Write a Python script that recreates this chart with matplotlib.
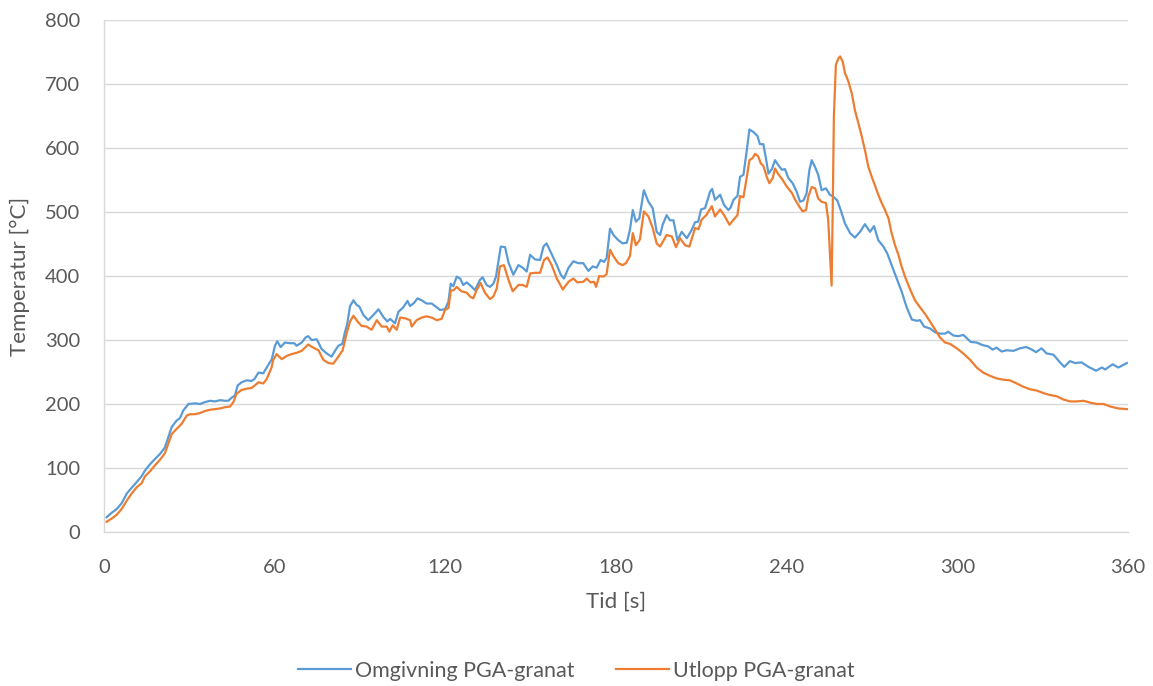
import matplotlib
matplotlib.use("Agg")
import matplotlib.pyplot as plt

plt.rcParams['font.family'] = ['Lato', 'DejaVu Sans']

# Omgivning PGA-granat: time [s] and temperature [°C]
t_omgivning = [0.9, 2.7, 4.5, 6.2, 8.0, 9.7, 11.5, 13.2, 14.4, 16.2, 17.9, 19.7, 21.4, 22.6, 23.8, 25.5,
               26.7, 27.9, 29.7, 32.0, 33.8, 35.5, 37.3, 39.0, 40.8, 42.5, 43.7, 44.9, 46.0, 47.0, 48.4,
               50.2, 51.9, 52.9, 54.3, 56.0, 57.2, 59.0, 60.1, 60.9, 62.1, 63.6, 65.4, 66.9, 67.7, 69.5,
               70.9, 71.8, 73.0, 74.8, 76.5, 78.3, 80.0, 81.2, 82.4, 83.8, 84.7, 85.5, 86.5, 87.7, 88.8,
               89.8, 91.2, 92.9, 94.7, 96.5, 98.2, 99.6, 100.6, 102.3, 103.5, 105.2, 106.7, 107.6, 109.0,
               110.2, 111.7, 113.4, 115.2, 117.0, 118.1, 119.9, 121.1, 121.9, 122.8, 124.0, 125.2, 126.3,
               127.5, 129.3, 130.4, 132.2, 133.1, 134.5, 135.7, 136.9, 137.8, 139.5, 141.0, 142.2, 143.9,
               145.7, 147.2, 148.6, 149.8, 151.5, 153.3, 154.5, 155.6, 157.4, 159.2, 160.6, 161.7, 163.2,
               165.0, 166.8, 168.5, 170.3, 171.8, 173.2, 174.6, 175.8, 176.7, 177.9, 179.1, 180.8, 182.3,
               183.8, 184.9, 185.9, 187.0, 188.2, 189.8, 191.4, 192.9, 194.3, 195.5, 196.4, 197.8, 199.0,
               200.2, 201.6, 203.1, 204.9, 206.6, 207.8, 208.9, 209.9, 211.3, 213.1, 213.8, 214.8, 216.6,
               218.0, 219.5, 220.3, 221.3, 222.7, 223.6, 224.8, 226.0, 226.9, 228.3, 229.7, 230.6, 231.8,
               232.7, 233.6, 234.8, 235.9, 237.1, 238.3, 239.4, 240.6, 242.1, 243.5, 244.7, 245.9, 247.0,
               248.0, 248.8, 250.0, 251.1, 252.3, 253.8, 255.2, 256.4, 257.8, 259.0, 260.5, 262.3, 264.0,
               265.8, 267.5, 269.3, 270.7, 272.2, 274.0, 275.4, 276.9, 278.7, 280.4, 282.2, 284.0, 285.7,
               286.9, 288.3, 290.4, 292.2, 293.9, 295.7, 296.8, 298.6, 300.4, 302.1, 303.3, 304.7, 306.8,
               308.9, 310.9, 312.4, 313.8, 315.6, 317.3, 319.7, 322.0, 324.2, 325.8, 327.7, 329.6, 331.4,
               333.8, 335.9, 337.6, 339.6, 341.4, 343.7, 346.1, 348.8, 350.8, 352.0, 354.6, 356.6, 359.6]
omgivning = [23, 30, 36, 45, 60, 69, 78, 87, 96, 106, 114, 122, 132, 148, 164, 174,
             178, 190, 200, 201, 200, 203, 205, 204, 206, 205, 205, 210, 213, 229, 234,
             237, 236, 239, 249, 248, 257, 270, 291, 298, 289, 296, 295, 295, 291, 296,
             304, 306, 300, 301, 286, 279, 274, 283, 291, 294, 312, 325, 353, 362, 355,
             352, 339, 331, 339, 348, 336, 329, 333, 326, 344, 351, 361, 353, 358,
             365, 362, 357, 357, 351, 347, 348, 360, 388, 384, 399, 396, 386,
             390, 383, 378, 394, 398, 386, 383, 388, 399, 446, 445, 421, 402,
             417, 413, 407, 433, 426, 425, 446, 451, 434, 417, 402, 396, 412,
             423, 420, 420, 408, 415, 413, 425, 422, 428, 474, 464, 456, 451,
             452, 472, 503, 485, 490, 534, 516, 506, 469, 464, 480, 495, 487,
             487, 456, 469, 459, 472, 484, 485, 504, 506, 532, 536, 519, 527,
             511, 503, 507, 519, 525, 555, 558, 597, 629, 625, 619, 606, 606,
             584, 560, 567, 581, 573, 566, 567, 553, 545, 532, 516, 518, 529,
             566, 581, 570, 558, 534, 537, 527, 524, 518, 503, 482, 467, 460,
             469, 481, 469, 478, 456, 446, 435, 417, 396, 376, 351, 332, 330,
             331, 321, 318, 312, 310, 310, 313, 307, 306, 308, 303, 297, 296,
             292, 290, 285, 288, 282, 284, 283, 287, 289, 286, 281, 287, 279,
             277, 266, 258, 267, 264, 265, 258, 252, 257, 254, 262, 257, 264]

# Utlopp PGA-granat: time [s] and temperature [°C]
t_utlopp = [0.9, 2.7, 4.5, 6.2, 8.0, 9.7, 11.5, 13.2, 14.4, 16.2, 17.9, 19.7, 21.4, 22.6, 23.8, 25.5,
            27.3, 29.1, 30.2, 32.0, 33.8, 35.5, 37.3, 39.0, 40.8, 42.5, 44.3, 45.5, 46.6, 48.4, 50.2,
            51.9, 53.3, 54.3, 56.0, 57.2, 58.9, 59.5, 60.7, 62.5, 64.2, 66.0, 67.7, 69.5, 71.8, 73.6,
            75.4, 77.1, 78.9, 80.6, 82.4, 83.9, 85.3, 86.5, 87.7, 89.1, 90.6, 92.3, 94.1, 95.9, 97.6,
            99.4, 100.3, 101.5, 102.9, 104.1, 105.8, 107.6, 108.2, 109.9, 111.7, 113.4, 115.2, 117.0,
            118.7, 119.9, 121.1, 121.9, 123.0, 124.0, 125.7, 127.5, 128.7, 129.8, 131.0, 132.4, 133.9,
            135.7, 136.9, 138.1, 139.2, 140.6, 142.2, 143.7, 145.7, 147.2, 148.6, 149.8, 151.5, 153.3,
            154.7, 155.9, 157.4, 159.2, 161.3, 163.3, 165.0, 166.4, 168.5, 169.7, 171.1, 172.3, 173.0,
            174.1, 175.6, 176.7, 177.9, 179.1, 180.8, 182.3, 183.5, 184.9, 185.9, 187.0, 188.4, 189.8,
            191.4, 192.9, 194.3, 195.5, 197.8, 199.6, 201.1, 202.5, 204.3, 205.8, 207.8, 209.0, 210.1,
            211.7, 213.7, 214.8, 216.6, 218.0, 219.9, 221.3, 222.7, 223.6, 224.8, 226.0, 226.9, 228.0,
            228.9, 230.0, 230.9, 231.8, 233.0, 233.9, 235.1, 235.9, 237.1, 238.6, 240.0, 241.8, 242.9,
            244.5, 245.6, 246.8, 247.6, 248.8, 250.0, 251.1, 252.3, 253.8, 254.6, 255.2, 255.8, 256.2,
            256.6, 257.3, 258.2, 258.8, 259.7, 260.5, 261.7, 262.9, 264.0, 265.2, 266.4, 267.5, 268.7,
            269.9, 271.0, 272.2, 273.4, 274.6, 275.8, 276.9, 278.1, 279.3, 280.4, 281.6, 283.4, 285.1,
            286.9, 288.6, 290.4, 292.2, 293.9, 295.7, 297.4, 299.8, 302.1, 304.5, 306.8, 309.1, 311.5,
            313.8, 316.2, 318.5, 320.9, 323.2, 325.6, 327.9, 330.3, 332.6, 335.0, 337.3, 339.7, 342.0,
            344.4, 346.8, 349.1, 351.4, 353.8, 356.7, 359.7]
utlopp = [16, 21, 27, 36, 49, 60, 70, 76, 87, 95, 104, 113, 123, 138, 153, 161,
          169, 182, 184, 184, 186, 189, 191, 192, 193, 195, 196, 203, 216, 222, 224,
          225, 230, 234, 232, 239, 257, 269, 278, 270, 275, 278, 280, 283, 293, 288,
          284, 269, 264, 263, 274, 284, 310, 329, 338, 329, 322, 321, 316, 331, 321,
          321, 313, 323, 316, 335, 334, 331, 321, 331, 335, 337, 335, 331,
          333, 347, 350, 377, 378, 383, 376, 374, 368, 365, 378, 389, 374,
          364, 368, 381, 415, 417, 394, 376, 386, 386, 383, 404, 405, 405,
          425, 429, 417, 396, 379, 391, 396, 390, 391, 396, 390, 391, 383,
          400, 399, 403, 441, 431, 420, 417, 420, 431, 467, 448, 457, 501,
          493, 475, 451, 446, 464, 462, 445, 459, 448, 446, 475, 473, 488,
          495, 509, 493, 504, 495, 480, 488, 495, 525, 523, 555, 581, 584,
          591, 587, 576, 572, 555, 545, 553, 568, 559, 550, 540, 530, 520,
          508, 501, 503, 524, 539, 537, 521, 516, 514, 488, 435, 385, 508,
          649, 730, 740, 743, 735, 717, 704, 685, 659, 639, 618, 597, 571,
          555, 542, 527, 514, 503, 490, 467, 448, 433, 415, 399, 379, 362,
          351, 341, 329, 316, 304, 296, 294, 287, 279, 269, 257, 249, 244,
          240, 238, 237, 232, 227, 223, 221, 217, 214, 212, 207, 204, 204,
          205, 202, 200, 200, 196, 193, 192]

x_ticks = [0, 60, 120, 180, 240, 300, 360]
y_ticks = [0, 100, 200, 300, 400, 500, 600, 700, 800]
series_names = ["Omgivning PGA-granat", "Utlopp PGA-granat"]

BLUE = "#5B9BD5"
ORANGE = "#ED7D31"
GRID = "#D9D9D9"
TEXT = "#595959"

fig = plt.figure(figsize=(11.53, 6.86), dpi=100)
ax = fig.add_axes([104 / 1153, 1 - 532 / 686, 1024 / 1153, 512 / 686])

ax.plot(t_omgivning, omgivning, color=BLUE, lw=1.6, label=series_names[0], solid_joinstyle="round")
ax.plot(t_utlopp, utlopp, color=ORANGE, lw=1.6, label=series_names[1], solid_joinstyle="round")

ax.set_xlim(0, 360)
ax.set_ylim(0, 800)
ax.set_xticks(x_ticks)
ax.set_yticks(y_ticks)
ax.grid(axis="y", color=GRID, lw=1.0)
ax.set_axisbelow(True)
for side in ("top", "right"):
    ax.spines[side].set_visible(False)
for side in ("left", "bottom"):
    ax.spines[side].set_color(GRID)
    ax.spines[side].set_linewidth(1.0)
ax.tick_params(length=0, labelsize=14.5, labelcolor=TEXT)
ax.tick_params(axis="x", pad=19.5)
ax.tick_params(axis="y", pad=17)

ax.set_xlabel("Tid [s]", fontsize=16, color=TEXT, labelpad=11)
ax.set_ylabel("Temperatur [°C]", fontsize=16, color=TEXT, labelpad=11)

fig.legend(loc="center", bbox_to_anchor=(0.5, 1 - 671 / 686), ncol=2, frameon=False,
           fontsize=15.5, labelcolor=TEXT, handlelength=2.45, columnspacing=1.9, handletextpad=0.2)

fig.savefig("out.png", dpi=100)
